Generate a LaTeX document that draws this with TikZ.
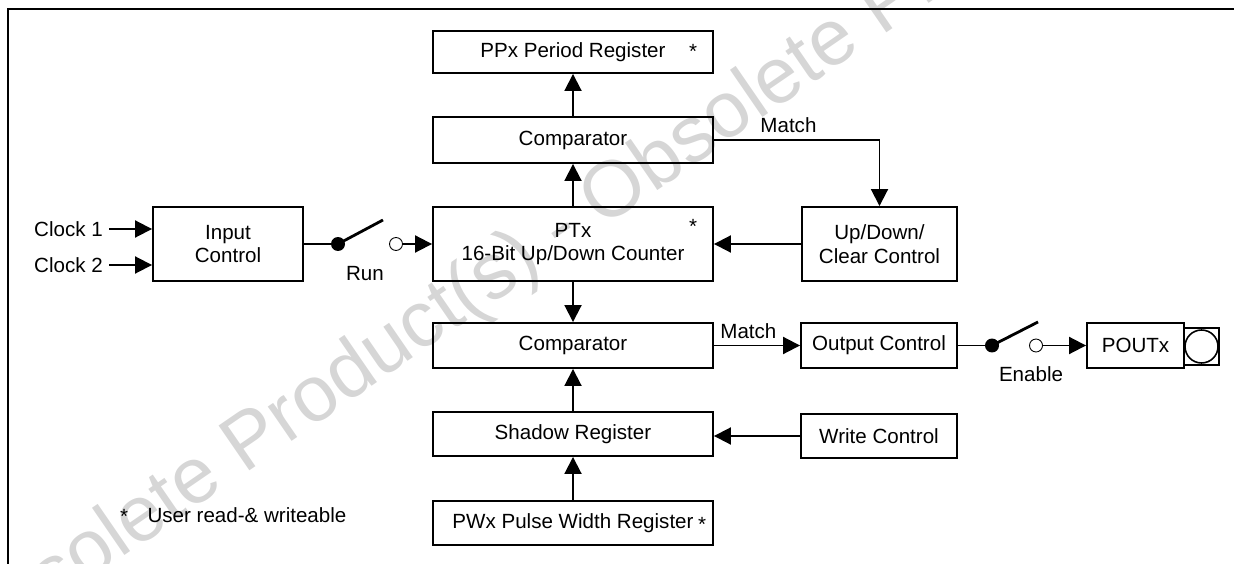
\documentclass[tikz,border=0pt]{standalone}
\usepackage{fontspec}
\setmainfont{Liberation Sans}
\usetikzlibrary{arrows.meta}

\tikzset{
  blk/.style={draw, line width=1.1pt, inner sep=0pt},
  arr/.style={line width=1.1pt, -{Triangle[length=3.4mm,width=3.4mm]}},
  wire/.style={line width=1.1pt},
  blade/.style={line width=1.6pt},
  pivot/.style={circle, fill, inner sep=0pt, minimum size=0.28cm},
  contact/.style={circle, draw, line width=0.5pt, inner sep=0pt, minimum size=0.26cm},
  lbl/.style={inner sep=0pt},
  asterisk/.style={inner sep=0pt, anchor=base},
}

\begin{document}
\begin{tikzpicture}[x=0.02cm, y=-0.02cm, font=\fontsize{11.7}{13.3}\selectfont]
  \useasboundingbox (0,0) rectangle (1234,564);
  \clip (0,0) rectangle (1234,564);
  % watermark
  \node[text=black!16, rotate=34.5, font=\fontsize{45}{50}\selectfont] (wmark) at (562,231) {Obsolete Product(s) - Obsolete Product(s)};
  % frame
  \draw[line width=1.5pt] (8,564) -- (8,9) -- (1234,9);

  % counter column
  \node[blk, minimum width=5.6cm, minimum height=0.84cm] (ppx) at (573,52) {PPx Period Register};
  \node[asterisk] (starA) at (693,59) {*};
  \node[blk, minimum width=5.6cm, minimum height=0.92cm] (cmpA) at (573,140) {Comparator};
  \node[blk, minimum width=5.6cm, minimum height=1.48cm, align=center] (ptx) at (573,244) {PTx\\16-Bit Up/Down Counter};
  \node[asterisk] (starB) at (693,234) {*};
  \node[blk, minimum width=5.6cm, minimum height=0.9cm] (cmpB) at (573,345.5) {Comparator};
  \node[blk, minimum width=5.6cm, minimum height=0.88cm] (shadow) at (573,434) {Shadow Register};
  \node[blk, minimum width=5.6cm, minimum height=0.88cm] (pwx) at (573,523) {PWx Pulse Width Register};
  \node[asterisk] (starC) at (702,531) {*};

  % right column
  \node[blk, minimum width=3.1cm, minimum height=1.48cm, align=center] (udc) at (879.5,244) {Up/Down/\\Clear Control};
  \node[blk, minimum width=3.12cm, minimum height=0.9cm] (outctl) at (879,345.5) {Output Control};
  \node[blk, minimum width=3.12cm, minimum height=0.88cm] (wrctl) at (879,436) {Write Control};
  \node[blk, minimum width=1.94cm, minimum height=0.9cm] (poutx) at (1135.5,345.5) {POUTx};
  \node[blk, minimum width=0.7cm, minimum height=0.74cm] (pad) at (1201.5,346.5) {};
  \node[circle, draw, line width=0.9pt, minimum size=0.66cm] (ring) at (pad) {};

  % input side
  \node[blk, minimum width=3cm, minimum height=1.48cm, align=center] (inctl) at (228,244) {Input\\Control};
  \node[anchor=east] (clkA) at (109,229) {Clock 1};
  \node[anchor=east] (clkB) at (109,265) {Clock 2};

  % switches
  \node[pivot] (runA) at (338,244) {};
  \node[contact] (runB) at (396,244) {};
  \coordinate (runTip) at (383,220);
  \node[lbl] (run) at (365,274) {Run};
  \node[pivot] (enA) at (992,345.5) {};
  \node[contact] (enB) at (1036,345.5) {};
  \coordinate (enTip) at (1038,322);
  \node[lbl] (en) at (1031,374) {Enable};

  % legend
  \node[asterisk] (legstar) at (124,523) {*};
  \node[lbl] (legend) at (247,515) {User read-\& writeable};

  % connections
  \draw[arr] (clkA) -- (clkA -| inctl.west);
  \draw[arr] (clkB) -- (clkB -| inctl.west);
  \draw[wire] (inctl) -- (runA);
  \draw[blade] (runA.center) -- (runTip);
  \draw[arr] (runB) -- (ptx);
  \draw[arr] (ptx) -- (cmpA);
  \draw[arr] (cmpA) -- (ppx);
  \draw[arr] (cmpA.east) -| node[pos=0.225, above] {Match} (udc.north);
  \draw[arr] (udc) -- (ptx);
  \draw[arr] (ptx) -- (cmpB);
  \draw[arr] (cmpB) -- node[pos=0.4, above] {Match} (outctl);
  \draw[wire] (outctl) -- (enA);
  \draw[blade] (enA.center) -- (enTip);
  \draw[arr] (enB) -- (poutx);
  \draw[arr] (shadow) -- (cmpB);
  \draw[arr] (pwx) -- (shadow);
  \draw[arr] (wrctl.west) -- (wrctl.west -| shadow.east);
\end{tikzpicture}
\end{document}
